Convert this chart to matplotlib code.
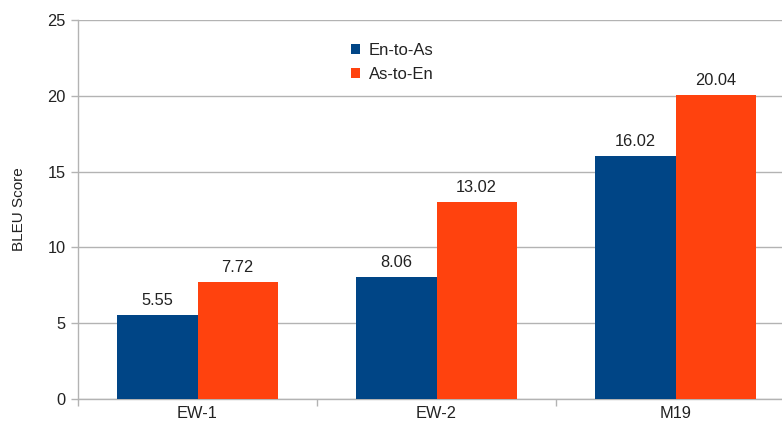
import matplotlib
matplotlib.use("Agg")
import matplotlib.pyplot as plt
import numpy as np

categories = ["EW-1", "EW-2", "M19"]
series_names = ["En-to-As", "As-to-En"]
en_to_as = [5.55, 8.06, 16.02]
as_to_en = [7.72, 13.02, 20.04]
colors = ["#004586", "#ff420e"]
yticks = [0, 5, 10, 15, 20, 25]

plt.rcParams['font.family'] = ['Liberation Sans', 'DejaVu Sans']

fig = plt.figure(figsize=(7.82, 4.25), dpi=100)
ax = fig.add_axes([78/782, 26/425, 717/782, 379/425])

x = np.arange(len(categories))
w = 0.335
b1 = ax.bar(x - w/2, en_to_as, w, color=colors[0], label=series_names[0], zorder=3)
b2 = ax.bar(x + w/2, as_to_en, w, color=colors[1], label=series_names[1], zorder=3)

for bars, vals in ((b1, en_to_as), (b2, as_to_en)):
    for r, v in zip(bars, vals):
        ax.annotate(f"{v:.2f}", (r.get_x() + r.get_width()/2, v), xytext=(0, 5),
                    textcoords="offset points", ha="center", va="bottom",
                    fontsize=11.8, color="#222222")

ax.set_xlim(-0.5, len(categories) - 0.5)
ax.set_ylim(0, 25)
ax.set_yticks(yticks)
ax.yaxis.grid(True, color="#b3b3b3", linewidth=1, zorder=0)
ax.set_axisbelow(True)

ax.set_xticks(x)
ax.set_xticklabels(categories, fontsize=11.8, color="#222222")
ax.set_xticks(np.arange(len(categories) + 1) - 0.5, minor=True)
ax.tick_params(axis="x", which="major", length=0, pad=5)
ax.tick_params(axis="x", which="minor", length=5, color="#b3b3b3", width=1)
ax.tick_params(axis="y", length=5, color="#b3b3b3", width=1, labelsize=11.8,
               labelcolor="#222222", pad=4)

for s in ("top", "right"):
    ax.spines[s].set_visible(False)
for s in ("left", "bottom"):
    ax.spines[s].set_color("#b3b3b3")
    ax.spines[s].set_linewidth(1)

ax.set_ylabel("BLEU Score", fontsize=11, color="#222222")
ax.yaxis.set_label_coords(-0.073, 0.5)

leg = ax.legend(loc="upper left", bbox_to_anchor=(266/717, 0.958), frameon=False,
                fontsize=12, handlelength=0.55, handleheight=0.55,
                handletextpad=0.55, labelspacing=0.55, borderaxespad=0)
for t in leg.get_texts():
    t.set_color("#222222")

fig.savefig("out.png", dpi=100)
